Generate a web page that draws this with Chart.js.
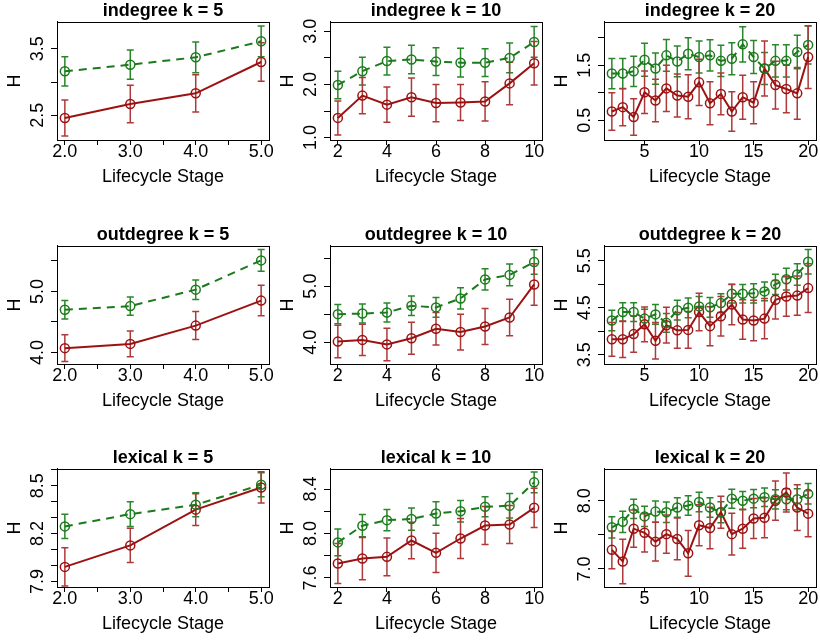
<!DOCTYPE html>
<html lang="en">
<head>
<meta charset="UTF-8">
<title>Entropy H by lifecycle stage</title>
<script src="https://cdn.jsdelivr.net/npm/chart.js"></script>
<style>
  body { margin: 0; background: #fff; overflow: hidden; }
  #grid { position: relative; width: 820px; height: 641px; overflow: hidden; }
  #grid canvas { position: absolute; }
</style>
</head>
<body>
<div id="grid"></div>
<script>
// lifecycle stages
const stages5 = [2, 3, 4, 5];
const stages10 = [2, 3, 4, 5, 6, 7, 8, 9, 10];
const stages20 = [2, 3, 4, 5, 6, 7, 8, 9, 10, 11, 12, 13, 14, 15, 16, 17, 18, 19, 20];

// x axis ticks / labels per k
const xTicks5 = [2, 2.5, 3, 3.5, 4, 4.5, 5];
const xLabels5 = ['2.0', '', '3.0', '', '4.0', '', '5.0'];
const xRange5 = [1.88, 5.12];
const xTicks10 = [2, 4, 6, 8, 10];
const xLabels10 = ['2', '4', '6', '8', '10'];
const xRange10 = [1.68, 10.32];
const xTicks20 = [5, 10, 15, 20];
const xLabels20 = ['5', '10', '15', '20'];
const xRange20 = [1.28, 20.72];

// indegree
const indeg5Green = [3.16, 3.26, 3.37, 3.61];
const indeg5GreenSd = [0.22, 0.22, 0.23, 0.23];
const indeg5Red = [2.46, 2.67, 2.83, 3.30];
const indeg5RedSd = [0.27, 0.28, 0.28, 0.29];
const indeg5Range = [2.13, 3.90];
const indeg5Ticks = [2.5, 3.0, 3.5];
const indeg5Labels = ['2.5', '', '3.5'];

const indeg10Green = [1.99, 2.25, 2.44, 2.47, 2.43, 2.41, 2.41, 2.50, 2.80];
const indeg10GreenSd = [0.26, 0.26, 0.26, 0.27, 0.26, 0.27, 0.26, 0.28, 0.29];
const indeg10Red = [1.37, 1.79, 1.62, 1.76, 1.65, 1.66, 1.68, 2.02, 2.40];
const indeg10RedSd = [0.32, 0.34, 0.33, 0.36, 0.35, 0.34, 0.37, 0.40, 0.41];
const indeg10Range = [0.954, 3.176];
const indeg10Ticks = [1.0, 1.5, 2.0, 2.5, 3.0];
const indeg10Labels = ['1.0', '', '2.0', '', '3.0'];

const indeg20Green = [1.35, 1.35, 1.39, 1.60, 1.44, 1.68, 1.57, 1.71, 1.65, 1.68, 1.58, 1.62, 1.88, 1.65, 1.44, 1.58, 1.58, 1.74, 1.87];
const indeg20GreenSd = [0.275, 0.275, 0.275, 0.30, 0.285, 0.29, 0.28, 0.29, 0.29, 0.285, 0.285, 0.29, 0.32, 0.30, 0.29, 0.295, 0.295, 0.305, 0.345];
const indeg20Red = [0.66, 0.74, 0.56, 1.01, 0.86, 1.08, 0.95, 0.93, 1.19, 0.81, 0.98, 0.66, 0.92, 0.82, 1.44, 1.14, 1.07, 0.99, 1.65];
const indeg20RedSd = [0.34, 0.34, 0.33, 0.385, 0.385, 0.42, 0.39, 0.40, 0.42, 0.39, 0.38, 0.36, 0.40, 0.38, 0.50, 0.435, 0.43, 0.47, 0.57];
const indeg20Range = [0.143, 2.286];
const indeg20Ticks = [0.5, 1.0, 1.5, 2.0];
const indeg20Labels = ['0.5', '', '1.5', ''];

// outdegree
const outdeg5Green = [4.70, 4.76, 5.03, 5.51];
const outdeg5GreenSd = [0.15, 0.15, 0.16, 0.18];
const outdeg5Red = [4.07, 4.14, 4.44, 4.85];
const outdeg5RedSd = [0.22, 0.21, 0.23, 0.25];
const outdeg5Range = [3.81, 5.746];
const outdeg5Ticks = [4.0, 4.5, 5.0, 5.5];
const outdeg5Labels = ['4.0', '', '5.0', ''];

const outdeg10Green = [4.50, 4.51, 4.53, 4.65, 4.62, 4.78, 5.12, 5.20, 5.43];
const outdeg10GreenSd = [0.17, 0.17, 0.17, 0.175, 0.175, 0.19, 0.19, 0.195, 0.22];
const outdeg10Red = [4.01, 4.04, 3.96, 4.07, 4.24, 4.18, 4.28, 4.44, 5.03];
const outdeg10RedSd = [0.29, 0.28, 0.29, 0.285, 0.29, 0.32, 0.32, 0.325, 0.37];
const outdeg10Range = [3.61, 5.716];
const outdeg10Ticks = [4.0, 4.5, 5.0, 5.5];
const outdeg10Labels = ['4.0', '', '5.0', ''];

const outdeg20Green = [4.23, 4.41, 4.41, 4.27, 4.36, 4.18, 4.45, 4.50, 4.53, 4.51, 4.60, 4.80, 4.80, 4.81, 4.85, 5.00, 5.11, 5.21, 5.48];
const outdeg20GreenSd = [0.22, 0.20, 0.20, 0.20, 0.21, 0.20, 0.21, 0.21, 0.21, 0.21, 0.20, 0.195, 0.195, 0.205, 0.20, 0.215, 0.23, 0.23, 0.26];
const outdeg20Red = [3.83, 3.83, 3.94, 4.15, 3.80, 4.13, 4.02, 4.03, 4.41, 4.11, 4.32, 4.57, 4.25, 4.23, 4.27, 4.67, 4.74, 4.76, 4.92];
const outdeg20RedSd = [0.36, 0.39, 0.385, 0.37, 0.39, 0.38, 0.38, 0.39, 0.40, 0.415, 0.42, 0.43, 0.42, 0.43, 0.43, 0.41, 0.42, 0.42, 0.52];
const outdeg20Range = [3.304, 5.816];
const outdeg20Ticks = [3.5, 4.0, 4.5, 5.0, 5.5];
const outdeg20Labels = ['3.5', '', '4.5', '', '5.5'];

// lexical
const lex5Green = [8.245, 8.322, 8.381, 8.506];
const lex5GreenSd = [0.076, 0.077, 0.075, 0.075];
const lex5Red = [7.991, 8.126, 8.350, 8.489];
const lex5RedSd = [0.12, 0.108, 0.10, 0.098];
const lex5Range = [7.865, 8.605];
const lex5Ticks = [7.9, 8.0, 8.1, 8.2, 8.3, 8.4, 8.5, 8.6];
const lex5Labels = ['7.9', '', '', '8.2', '', '', '8.5', ''];

const lex10Green = [7.92, 8.07, 8.12, 8.13, 8.18, 8.20, 8.24, 8.25, 8.46];
const lex10GreenSd = [0.12, 0.10, 0.095, 0.10, 0.105, 0.097, 0.09, 0.11, 0.093];
const lex10Red = [7.73, 7.775, 7.79, 7.937, 7.826, 7.955, 8.072, 8.081, 8.231];
const lex10RedSd = [0.18, 0.19, 0.17, 0.165, 0.177, 0.18, 0.17, 0.17, 0.177];
const lex10Range = [7.519, 8.58];
const lex10Ticks = [7.6, 7.8, 8.0, 8.2, 8.4];
const lex10Labels = ['7.6', '', '8.0', '', '8.4'];

const lex20Green = [7.61, 7.69, 7.88, 7.77, 7.84, 7.83, 7.90, 7.93, 7.98, 7.90, 7.83, 8.03, 8.00, 8.03, 8.05, 8.02, 8.02, 8.02, 8.10];
const lex20GreenSd = [0.155, 0.155, 0.14, 0.147, 0.155, 0.15, 0.142, 0.142, 0.142, 0.144, 0.154, 0.139, 0.134, 0.134, 0.135, 0.14, 0.154, 0.154, 0.15];
const lex20Red = [7.28, 7.11, 7.59, 7.53, 7.40, 7.51, 7.44, 7.23, 7.64, 7.60, 7.83, 7.51, 7.59, 7.74, 7.75, 8.00, 8.12, 7.90, 7.81];
const lex20RedSd = [0.275, 0.327, 0.273, 0.28, 0.285, 0.28, 0.305, 0.335, 0.30, 0.305, 0.234, 0.305, 0.285, 0.293, 0.293, 0.288, 0.285, 0.335, 0.337];
const lex20Range = [6.736, 8.464];
const lex20Ticks = [7.0, 7.5, 8.0];
const lex20Labels = ['7.0', '', '8.0'];

const GREEN = '#1b7a1b';
const GREEN_BAR = '#2a862a';
const RED = '#9c1212';
const RED_BAR = '#ad3a3a';

Chart.defaults.font.family = "'Liberation Sans', Arial, Helvetica, sans-serif";
Chart.defaults.font.size = 18;
Chart.defaults.color = '#000';

const panels = [
  ['indegree k = 5', stages5, indeg5Green, indeg5GreenSd, indeg5Red, indeg5RedSd, indeg5Range, indeg5Ticks, indeg5Labels, xRange5, xTicks5, xLabels5],
  ['indegree k = 10', stages10, indeg10Green, indeg10GreenSd, indeg10Red, indeg10RedSd, indeg10Range, indeg10Ticks, indeg10Labels, xRange10, xTicks10, xLabels10],
  ['indegree k = 20', stages20, indeg20Green, indeg20GreenSd, indeg20Red, indeg20RedSd, indeg20Range, indeg20Ticks, indeg20Labels, xRange20, xTicks20, xLabels20],
  ['outdegree k = 5', stages5, outdeg5Green, outdeg5GreenSd, outdeg5Red, outdeg5RedSd, outdeg5Range, outdeg5Ticks, outdeg5Labels, xRange5, xTicks5, xLabels5],
  ['outdegree k = 10', stages10, outdeg10Green, outdeg10GreenSd, outdeg10Red, outdeg10RedSd, outdeg10Range, outdeg10Ticks, outdeg10Labels, xRange10, xTicks10, xLabels10],
  ['outdegree k = 20', stages20, outdeg20Green, outdeg20GreenSd, outdeg20Red, outdeg20RedSd, outdeg20Range, outdeg20Ticks, outdeg20Labels, xRange20, xTicks20, xLabels20],
  ['lexical k = 5', stages5, lex5Green, lex5GreenSd, lex5Red, lex5RedSd, lex5Range, lex5Ticks, lex5Labels, xRange5, xTicks5, xLabels5],
  ['lexical k = 10', stages10, lex10Green, lex10GreenSd, lex10Red, lex10RedSd, lex10Range, lex10Ticks, lex10Labels, xRange10, xTicks10, xLabels10],
  ['lexical k = 20', stages20, lex20Green, lex20GreenSd, lex20Red, lex20RedSd, lex20Range, lex20Ticks, lex20Labels, xRange20, xTicks20, xLabels20]
];

// vertical bars with caps, mean +/- sd
const errorBars = {
  id: 'errorBars',
  beforeDatasetsDraw(chart) {
    const { ctx, scales: { x, y } } = chart;
    chart.data.datasets.forEach(ds => {
      ctx.save();
      ctx.strokeStyle = ds.barColor;
      ctx.lineWidth = 1.5;
      ds.data.forEach(p => {
        const px = x.getPixelForValue(p.x);
        const hi = y.getPixelForValue(p.y + p.sd);
        const lo = y.getPixelForValue(p.y - p.sd);
        ctx.beginPath();
        ctx.moveTo(px, hi); ctx.lineTo(px, lo);
        ctx.moveTo(px - 3.5, hi); ctx.lineTo(px + 3.5, hi);
        ctx.moveTo(px - 3.5, lo); ctx.lineTo(px + 3.5, lo);
        ctx.stroke();
      });
      ctx.restore();
    });
  }
};

// full box around the plot region
const frame = {
  id: 'frame',
  afterDraw(chart) {
    const { ctx, chartArea: a } = chart;
    ctx.save();
    ctx.strokeStyle = '#000';
    ctx.lineWidth = 1;
    ctx.strokeRect(Math.round(a.left) + 0.5, Math.round(a.top) + 0.5, Math.round(a.width), Math.round(a.height));
    ctx.restore();
  }
};

function series(xs, mean, sd, color, barColor, dash) {
  return {
    data: xs.map((s, j) => ({ x: s, y: mean[j], sd: sd[j] })),
    borderColor: color,
    borderWidth: 2,
    borderDash: dash,
    barColor: barColor,
    pointRadius: 4.5,
    pointHoverRadius: 4.5,
    pointBorderWidth: 1.5,
    pointBorderColor: color,
    pointBackgroundColor: 'rgba(0,0,0,0)',
    backgroundColor: 'rgba(0,0,0,0)',
    fill: false,
    tension: 0
  };
}

const grid = document.getElementById('grid');

panels.forEach((p, i) => {
  const [title, xs, green, greenSd, red, redSd, yRange, yTicks, yLabels, xRange, xTicks, xLabels] = p;
  const row = Math.floor(i / 3), col = i % 3;
  const canvas = document.createElement('canvas');
  canvas.width = 282;
  canvas.height = 194;
  canvas.style.left = Math.round(col * 273.3) + 'px';
  canvas.style.top = Math.round(row * 223.7) + 'px';
  grid.appendChild(canvas);

  new Chart(canvas, {
    type: 'line',
    data: {
      datasets: [
        series(xs, green, greenSd, GREEN, GREEN_BAR, [8, 6]),
        series(xs, red, redSd, RED, RED_BAR, [])
      ]
    },
    options: {
      responsive: false,
      animation: false,
      layout: { padding: { left: 0, right: 13, top: 0, bottom: 0 } },
      plugins: {
        legend: { display: false },
        tooltip: { enabled: false },
        title: {
          display: true,
          text: title,
          fullSize: false,
          font: { size: 18, weight: 'bold' },
          padding: { top: 0, bottom: 0.4 }
        }
      },
      scales: {
        x: {
          type: 'linear',
          min: xRange[0],
          max: xRange[1],
          border: { display: true, color: '#000', width: 1 },
          grid: { display: true, drawOnChartArea: false, drawTicks: true, tickLength: 5, tickColor: '#000', tickWidth: 1 },
          ticks: { autoSkip: false, maxRotation: 0, padding: -4, callback: (v, k) => xLabels[k] },
          title: { display: true, text: 'Lifecycle Stage', padding: { top: 0, bottom: 6 } },
          afterBuildTicks: s => { s.ticks = xTicks.map(v => ({ value: v })); },
          afterFit: s => { s.height = 54; s.paddingLeft = 0; s.paddingRight = 0; }
        },
        y: {
          type: 'linear',
          min: yRange[0],
          max: yRange[1],
          border: { display: true, color: '#000', width: 1 },
          grid: { display: true, drawOnChartArea: false, drawTicks: true, tickLength: 6, tickColor: '#000', tickWidth: 1 },
          ticks: { autoSkip: false, minRotation: 90, maxRotation: 90, crossAlign: 'center', padding: 0, callback: (v, k) => yLabels[k] },
          title: { display: true, text: 'H', padding: { top: 4, bottom: 0 } },
          afterBuildTicks: s => { s.ticks = yTicks.map(v => ({ value: v })); },
          afterFit: s => { s.width = 57; s.paddingTop = 0; s.paddingBottom = 0; }
        }
      }
    },
    plugins: [errorBars, frame]
  });
});
</script>
</body>
</html>
